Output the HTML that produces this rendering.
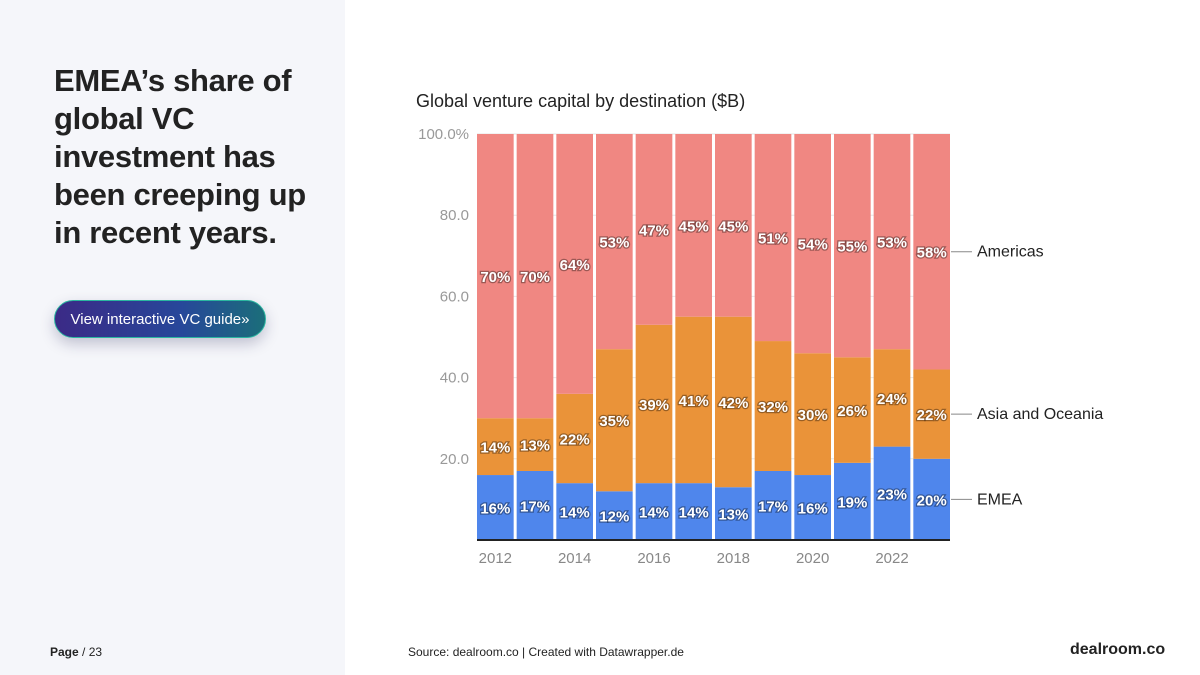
<!DOCTYPE html>
<html><head><meta charset="utf-8"><style>
body{margin:0;width:1200px;height:675px;position:relative;background:#fff;font-family:"Liberation Sans",sans-serif;overflow:hidden}
.left{position:absolute;left:0;top:0;width:345px;height:675px;background:#f5f6fa}
h1{position:absolute;left:54px;top:62px;margin:0;font-size:31px;line-height:38px;font-weight:bold;color:#222;width:280px;letter-spacing:-0.3px}
.btn{position:absolute;left:54px;top:300px;width:212px;height:38px;border-radius:19px;background:linear-gradient(90deg,#3b2a86,#27479a 60%,#1b6e7a);border:1px solid #2bb6a0;box-shadow:0 6px 14px rgba(40,40,90,.25);color:#fff;font-size:15px;line-height:38px;text-align:center;box-sizing:border-box}
.foot{position:absolute;top:645px;font-size:12px;color:#222}
</style></head><body>
<div class="left"></div>
<h1>EMEA’s share of global VC investment has been creeping up in recent years.</h1>
<div class="btn">View interactive VC guide»</div>
<div class="foot" style="left:50px"><b>Page</b> / 23</div>
<div class="foot" style="left:408px">Source: dealroom.co | Created with Datawrapper.de</div>
<div class="foot" style="left:1070px;font-size:16px;font-weight:bold;top:641px">dealroom.co</div>
<svg id="chart" width="1200" height="675" style="position:absolute;left:0;top:0"></svg>
<script>
const years=[2012,2013,2014,2015,2016,2017,2018,2019,2020,2021,2022,2023];
const emea=[16,17,14,12,14,14,13,17,16,19,23,20];
const asia=[14,13,22,35,39,41,42,32,30,26,24,22];
const americas=[70,70,64,53,47,45,45,51,54,55,53,58];
const yTicks=[20,40,60,80,100];
const seriesNames=["EMEA","Asia and Oceania","Americas"];
const NS="http://www.w3.org/2000/svg";
const svg=document.getElementById('chart');
const x0=477,x1=950,yTop=134,yBot=540,gap=3;
const step=(x1-x0+gap)/years.length,bw=step-gap;
const y=v=>yBot-(v/100)*(yBot-yTop);
const xb=i=>x0+i*step;
function mk(t,a){const e=document.createElementNS(NS,t);for(const k in a)e.setAttribute(k,a[k]);svg.appendChild(e);return e;}
let t=mk('text',{x:416,y:107,'font-size':18,fill:'#222'});t.textContent='Global venture capital by destination ($B)';

yTicks.forEach(v=>{
 const g=mk('line',{x1:x0,x2:x1,y1:y(v),y2:y(v),stroke:'#e6e6e6'});
 
 const l=mk('text',{x:469,y:y(v)+5,'text-anchor':'end','font-size':15,fill:'#999'});
 l.textContent=v===100?'100.0%':v.toFixed(1);
 
});
const series=[emea,asia,americas],cols=['#4f86ec','#ea9339','#f08782'];
years.forEach((yr,i)=>{
 let base=0;
 series.forEach((s,k)=>{
  const v=s[i];
  const r=mk('rect',{x:xb(i),y:y(base+v),width:bw,height:y(base)-y(base+v),fill:cols[k]});
  
  
  const lb=mk('text',{x:xb(i)+bw/2,y:(y(base)+y(base+v))/2+6,'text-anchor':'middle','font-size':15,'font-weight':'bold',fill:'#fff',stroke:'rgba(0,0,0,0.35)','stroke-width':2.5,'paint-order':'stroke'});
  lb.textContent=v+'%';
  
  base+=v;
 });
 if(yr%2===0){const xl=mk('text',{x:xb(i)+bw/2,y:563,'text-anchor':'middle','font-size':15,fill:'#888'});xl.textContent=yr;
 }
});
const ax=mk('line',{x1:x0,x2:x1,y1:yBot,y2:yBot,stroke:'#222','stroke-width':2});

let b=0;const li=years.length-1;
series.forEach((s,k)=>{
 const ym=(y(b)+y(b+s[li]))/2;b+=s[li];
 const ln=mk('line',{x1:x1+1,x2:972,y1:ym,y2:ym,stroke:'#888'});
 
 const tx=mk('text',{x:977,y:ym+5,'font-size':16,fill:'#222'});tx.textContent=seriesNames[k];
 
});
</script>
</body></html>
